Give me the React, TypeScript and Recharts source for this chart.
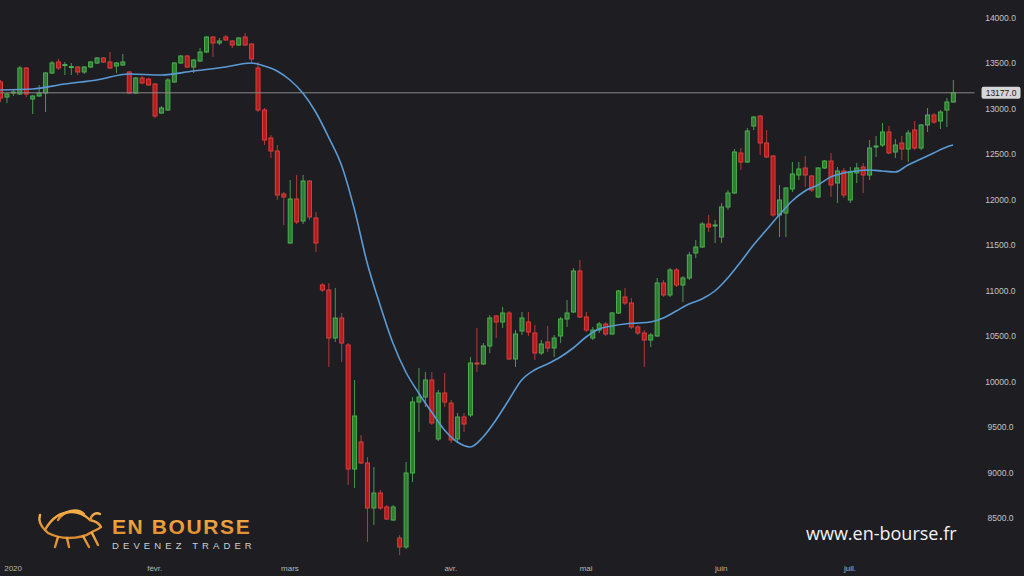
import { ComposedChart, Bar, Line, XAxis, YAxis, ReferenceLine } from "recharts";

// daily candles (first one partly cut at the left edge)
const opens = [
  13296, 13131, 13175, 13164, 13450, 13109, 13142, 13175, 13395, 13516,
  13483, 13461, 13461, 13406, 13461, 13505, 13560, 13516, 13472, 13483,
  13406, 13175, 13340, 13329, 13274, 12955, 12988, 13296, 13505, 13582,
  13461, 13527, 13626, 13791, 13725, 13791, 13747, 13703, 13791, 13714,
  13450, 12988, 12680, 12537, 12064, 11525, 12009, 11767, 12207, 11800,
  11063, 11008, 10480, 10700, 10403, 9039, 9336, 9105, 8610, 8775,
  8621, 8478, 8280, 8181, 8995, 9776, 9831, 10018, 9369, 9875,
  9765, 9369, 9611, 9633, 10205, 10194, 10392, 10722, 10656, 10755,
  10249, 10557, 10656, 10535, 10315, 10436, 10370, 10502, 10689, 10766,
  11217, 10711, 10480, 10568, 10634, 10524, 10755, 10931, 10865, 10601,
  10535, 10458, 10502, 11085, 10953, 11228, 11063, 11140, 11415, 11481,
  11734, 11712, 11591, 11921, 12075, 12515, 12416, 12812, 12922, 12625,
  12482, 11833, 11855, 12119, 12273, 12350, 12262, 12031, 12350, 12427,
  12185, 12317, 11998, 12295, 12361, 12273, 12581, 12603, 12746, 12526,
  12625, 12559, 12768, 12570, 12823, 12933, 12867, 12988, 13076,
];
const highs = [
  13318, 13175, 13208, 13472, 13461, 13153, 13263, 13406, 13527, 13549,
  13516, 13505, 13472, 13472, 13527, 13571, 13571, 13626, 13516, 13604,
  13417, 13351, 13362, 13340, 13285, 13032, 13340, 13516, 13593, 13593,
  13549, 13670, 13802, 13802, 13780, 13813, 13758, 13791, 13835, 13725,
  13516, 13010, 12713, 12603, 12086, 12218, 12273, 12273, 12218, 11866,
  11085, 11085, 11030, 10755, 10425, 10018, 9413, 9171, 9061, 8808,
  8643, 8643, 8313, 9116, 9831, 10150, 10106, 10106, 9908, 10095,
  9798, 9655, 9655, 10271, 10590, 10425, 10733, 10733, 10821, 10777,
  10568, 10766, 10766, 10623, 10458, 10612, 10513, 10711, 10898, 11250,
  11338, 10766, 10601, 10656, 10656, 10766, 11008, 11030, 10920, 10623,
  10568, 10535, 11140, 11118, 11250, 11250, 11162, 11426, 11558, 11756,
  11833, 11778, 11965, 12108, 12559, 12570, 12790, 12922, 12933, 12768,
  12493, 12163, 12141, 12416, 12416, 12482, 12273, 12361, 12438, 12515,
  12361, 12350, 12361, 12405, 12405, 12658, 12702, 12845, 12812, 12669,
  12702, 12768, 12867, 12834, 13010, 12955, 12988, 13120, 13318,
];
const lows = [
  13076, 13065, 13142, 13153, 13131, 12944, 13131, 12966, 13384, 13428,
  13373, 13373, 13373, 13384, 13450, 13494, 13505, 13439, 13395, 13472,
  13164, 13164, 13274, 13252, 12900, 12944, 12977, 13285, 13494, 13450,
  13395, 13516, 13615, 13571, 13703, 13747, 13670, 13692, 13692, 13505,
  12966, 12603, 12460, 12000, 11723, 11514, 11734, 11734, 11778, 11426,
  10986, 10161, 10436, 10216, 8863, 8830, 9094, 8236, 8423, 8588,
  8478, 8467, 8071, 8159, 8896, 9446, 9721, 9523, 9347, 9721,
  9325, 9336, 9446, 9611, 10106, 10183, 10315, 10480, 10590, 10238,
  10161, 10513, 10502, 10238, 10293, 10326, 10271, 10425, 10601, 10755,
  10700, 10546, 10458, 10535, 10502, 10513, 10744, 10843, 10579, 10513,
  10161, 10381, 10491, 10931, 10931, 11041, 10876, 11118, 11360, 11470,
  11646, 11525, 11525, 11888, 12064, 12328, 12405, 12768, 12493, 12460,
  11811, 11591, 11591, 12086, 12218, 12141, 12086, 12020, 12339, 12031,
  11965, 12020, 11965, 12185, 12075, 12218, 12471, 12581, 12504, 12460,
  12438, 12416, 12548, 12548, 12746, 12834, 12779, 12801, 13065,
];
const closes = [
  13120, 13164, 13186, 13450, 13164, 13142, 13175, 13395, 13505, 13450,
  13488, 13466, 13406, 13461, 13516, 13560, 13516, 13450, 13505, 13516,
  13175, 13340, 13285, 13263, 12922, 13010, 13318, 13505, 13582, 13461,
  13538, 13626, 13791, 13725, 13747, 13758, 13703, 13780, 13703, 13549,
  12988, 12658, 12537, 12053, 12031, 12009, 11756, 12207, 11811, 11525,
  11008, 10480, 10700, 10425, 9039, 9622, 9105, 8610, 8775, 8610,
  8489, 8621, 8181, 8995, 9776, 9831, 10018, 9545, 9875, 9776,
  9358, 9611, 9534, 10205, 10194, 10392, 10700, 10656, 10755, 10249,
  10524, 10700, 10546, 10315, 10414, 10370, 10480, 10689, 10755, 11217,
  10711, 10568, 10568, 10634, 10524, 10755, 10997, 10865, 10601, 10535,
  10458, 10513, 11085, 10953, 11228, 11063, 11140, 11393, 11481, 11734,
  11701, 11723, 11921, 12075, 12526, 12416, 12757, 12911, 12625, 12471,
  11833, 11998, 12130, 12284, 12339, 12273, 12108, 12350, 12427, 12163,
  12317, 12053, 12306, 12350, 12273, 12570, 12592, 12746, 12515, 12603,
  12559, 12735, 12570, 12823, 12933, 12856, 12966, 13076, 13177,
];

// blue moving average at these candles
const maIdx = [
  0, 5, 10, 15, 20, 25, 30, 35, 39, 41, 43, 45, 47, 49, 51, 53, 55, 57, 59, 61,
  63, 65, 67, 69, 71, 73, 75, 77, 79, 81, 83, 85, 87, 89, 91, 93, 95, 97, 99, 101,
  103, 105, 107, 109, 111, 113, 115, 117, 119, 121, 123, 125, 127, 129, 131, 133,
  135, 137, 139, 141, 143, 145, 147, 148,
];
const maVal = [
  13208, 13219, 13274, 13318, 13384, 13373, 13417, 13461, 13505, 13472, 13417, 13318,
  13175, 12966, 12690, 12383, 11900, 11305, 10843, 10425, 10106, 9875, 9666, 9468,
  9336, 9281, 9391, 9578, 9798, 10018, 10128, 10194, 10271, 10370, 10491, 10579,
  10612, 10634, 10645, 10656, 10700, 10777, 10854, 10909, 10997, 11140, 11316, 11503,
  11668, 11833, 11987, 12097, 12163, 12251, 12295, 12317, 12328, 12317, 12306, 12383,
  12449, 12515, 12581, 12603,
];

const lastPrice = 13177;
const yTicks = [8500, 9000, 9500, 10000, 10500, 11000, 11500, 12000, 12500, 13000, 13500, 14000];
const monthTicks = [2, 24, 45, 70, 91, 112, 132];
const monthLabels = ["2020", "févr.", "mars", "avr.", "mai", "juin", "juil."];

const data = opens.map((o, i) => {
  const k = maIdx.indexOf(i);
  return {
    i,
    o,
    h: highs[i],
    l: lows[i],
    c: closes[i],
    range: [lows[i], highs[i]],
    ma: k >= 0 ? maVal[k] : null,
  };
});

const BG = "#1d1d22";
const SHIFT = 2.54; // plot starts slightly left of the page edge

const Candle = (props: any) => {
  const { x, y, width, height, payload } = props;
  if (!payload) return null;
  const { o, h, l, c } = payload;
  const top = Math.min(y, y + height);
  const span = Math.abs(height);
  const k = h - l === 0 ? 0 : span / (h - l);
  const yo = top + (h - o) * k;
  const yc = top + (h - c) * k;
  const up = c >= o;
  const fill = up ? "#2e7d32" : "#b71c1c";
  const edge = up ? "#4caf50" : "#d84040";
  const wick = up ? "#4a9a4e" : "#b83a3a";
  const cx = x + width / 2;
  const bt = Math.min(yo, yc);
  const bh = Math.max(1, Math.abs(yo - yc));
  return (
    <g>
      <line x1={cx} x2={cx} y1={top} y2={top + span} stroke={wick} strokeWidth={1} />
      <rect x={x + 0.5} y={bt} width={width - 1} height={bh} fill={fill} stroke={edge} strokeWidth={1} />
    </g>
  );
};

const PriceTag = (props: any) => {
  const vb = props.viewBox || {};
  const left = vb.x + vb.width + 7;
  return (
    <g>
      <rect x={left} y={vb.y - 6} width={39} height={12} rx={2} fill="#d6d6d6" />
      <text x={left + 19.5} y={vb.y + 3} textAnchor="middle" fontSize={8.5} fill="#1a1a1a"
        fontFamily="Liberation Sans, Arial, sans-serif">
        {lastPrice.toFixed(1)}
      </text>
    </g>
  );
};

const YTick = (props: any) => {
  const { y, payload } = props;
  return (
    <text x={1001 + SHIFT} y={y + 3} textAnchor="middle" fontSize={8.5} fill="#c4c4c4"
      fontFamily="Liberation Sans, Arial, sans-serif">
      {Number(payload.value).toFixed(1)}
    </text>
  );
};

const XTick = (props: any) => {
  const { x, payload } = props;
  const k = monthTicks.indexOf(payload.value);
  return (
    <text x={x} y={571} textAnchor="middle" fontSize={8} fill="#b8b8b8"
      fontFamily="Liberation Sans, Arial, sans-serif">
      {k >= 0 ? monthLabels[k] : ""}
    </text>
  );
};

const Watermark = () => (
  <svg width={1024} height={576} style={{ position: "absolute", left: 0, top: 0, pointerEvents: "none" }}>
    <defs>
      <linearGradient id="gold" x1="0" y1="0" x2="0" y2="1">
        <stop offset="0%" stopColor="#f6b04a" />
        <stop offset="100%" stopColor="#dc8a2c" />
      </linearGradient>
    </defs>
    <g fill="none" stroke="url(#gold)" strokeWidth={2.4} strokeLinecap="round" strokeLinejoin="round">
      <path d="M45 530 C41 526 38 521 40 515" />
      <path d="M45 530 C52 517 62 512 72 512 C80 512 86 516 90 520 C95 521 99 523 101 527 C98 530 95 530 92 532 C85 537 76 538 68 538 C60 538 54 536 48 533 Z" />
      <path d="M58 520 C64 510 78 508 84 514" />
      <path d="M90 520 C92 514 96 512 100 514" />
      <path d="M58 537 L55 547 M67 538 L69 547 M83 536 L89 547 M92 533 L98 545" />
      <path d="M44 548.5 L102 548.5" />
    </g>
    <text x={112} y={534} fontSize={21} fontWeight="bold" letterSpacing={1.6} fill="url(#gold)"
      fontFamily="Liberation Sans, Arial, sans-serif">EN BOURSE</text>
    <text x={112} y={548.5} fontSize={9.5} letterSpacing={4.1} fill="#cfcfcf"
      fontFamily="Liberation Sans, Arial, sans-serif">DEVENEZ TRADER</text>
    <text x={806} y={540} fontSize={18} fill="#f2f2f2" fontFamily="Open Sans, sans-serif">www.en-bourse.fr</text>
  </svg>
);

export default function App() {
  return (
    <div style={{ position: "fixed", left: 0, top: 0, width: 1024, height: 576, background: BG, overflow: "hidden" }}>
      <div style={{ position: "absolute", left: -SHIFT, top: 0 }}>
        <ComposedChart width={1024 + SHIFT} height={576} data={data} margin={{ top: 0, right: 0, bottom: 0, left: 0 }}>
          <XAxis dataKey="i" type="category" height={21} padding={{ left: 0, right: 18.28 }}
            ticks={monthTicks} interval={0} axisLine={false} tickLine={false} tick={<XTick />} />
          <YAxis orientation="right" width={49} domain={[8093, 14198]} allowDataOverflow
            ticks={yTicks} axisLine={false} tickLine={false} tick={<YTick />} />
          <ReferenceLine y={lastPrice} stroke="#8a8a8a" strokeWidth={1} label={<PriceTag />} />
          <Bar dataKey="range" barSize={5} shape={<Candle />} activeBar={false} isAnimationActive={false} />
          <Line dataKey="ma" type="monotone" connectNulls dot={false} activeDot={false} stroke="#5b9bd5"
            strokeWidth={1.6} isAnimationActive={false} />
        </ComposedChart>
      </div>
      <Watermark />
    </div>
  );
}
